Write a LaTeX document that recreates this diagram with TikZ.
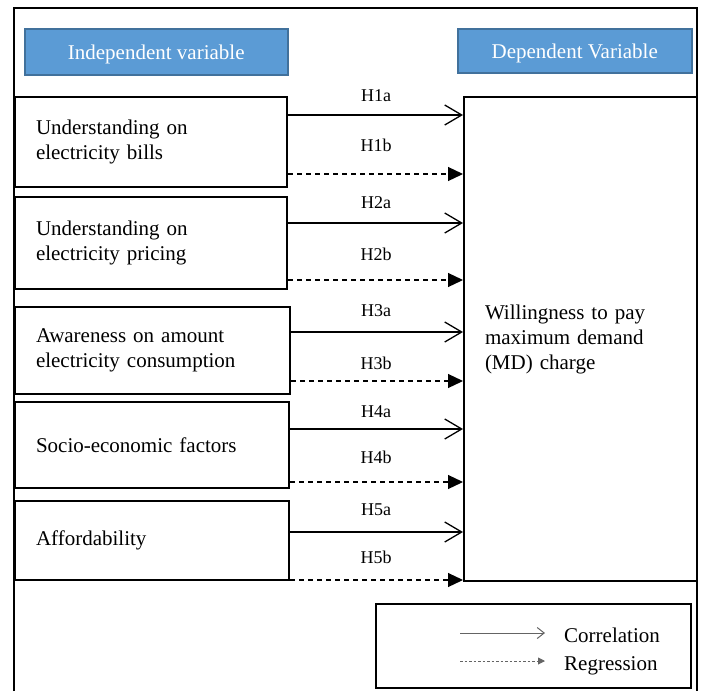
\documentclass[tikz,border=0pt]{standalone}
\usepackage{fontspec}
\setmainfont{Liberation Serif}
\usepackage{xcolor}
\usepackage{tikz}
\usetikzlibrary{arrows.meta,calc}
\definecolor{AzulCaja}{RGB}{91,155,213}
\definecolor{AzulBorde}{RGB}{65,113,156}
\definecolor{GrisLeyenda}{RGB}{100,100,100}

\begin{document}
\begin{tikzpicture}[x=1pt,y=-1pt,
  varbox/.style={draw,line width=2pt,anchor=north west,align=left,inner xsep=21pt,font=\fontsize{21}{25}\selectfont},
  titlebox/.style={draw=AzulBorde,line width=1.5pt,fill=AzulCaja,text=white,anchor=north west,text height=15pt,text depth=0pt,font=\fontsize{21}{25}\selectfont},
  corr/.style={line width=1.3pt,-{Straight Barb[length=17pt,width=20pt,line width=1.3pt]}},
  regr/.style={line width=1.2pt,dash pattern=on 5pt off 4pt,-{Triangle[length=15pt,width=14pt]}},
  hlabel/.style={font=\fontsize{18}{20}\selectfont},
  legtext/.style={anchor=base west,inner sep=0pt,font=\fontsize{21}{25}\selectfont}]
  \useasboundingbox (0,0) rectangle (701,691);
  % outer frame, open at the bottom
  \draw[line width=2pt] (14,691) -- (14,8) -- (697,8) -- (697,691);
  % headings
  \node[titlebox,minimum width=263pt,minimum height=46pt] (indep) at (24,28) {Independent variable};
  \node[titlebox,minimum width=234pt,minimum height=44pt] (dep) at (457,28) {Dependent Variable};
  % independent variables
  \node[varbox,minimum width=272pt,minimum height=90pt,text width=230pt] (bills) at (14,96) {Understanding on\\electricity bills};
  \node[varbox,minimum width=272pt,minimum height=92pt,text width=230pt] (pricing) at (14,196) {Understanding on\\electricity pricing};
  \node[varbox,minimum width=275pt,minimum height=87pt,text width=233pt] (awareness) at (14,306) {Awareness on amount\\electricity consumption};
  \node[varbox,minimum width=274pt,minimum height=86pt,text width=232pt] (socio) at (14,401) {Socio-economic factors};
  \node[varbox,minimum width=274pt,minimum height=79pt,text width=232pt] (afford) at (14,500) {Affordability};
  % dependent variable
  \node[varbox,minimum width=233pt,minimum height=484pt,text width=191pt] (wtp) at (463,96) {Willingness to pay\\maximum demand\\(MD) charge};
  % hypotheses
  \foreach \var/\num/\ya/\yb/\la/\lb in {bills/1/115/174/96/145,pricing/2/223/280/203/254,awareness/3/332/381/311/363,socio/4/429/482/412/457,afford/5/532/580/510/557}{
    \draw[corr] (\var.east |- 0,\ya) -- (wtp.west |- 0,\ya);
    \draw[regr] (\var.east |- 0,\yb) -- (wtp.west |- 0,\yb);
    \node[hlabel] (h\num a) at (376,\la) {H\num a};
    \node[hlabel] (h\num b) at (376,\lb) {H\num b};
  }
  % legend
  \node[draw,line width=2pt,anchor=north west,minimum width=315pt,minimum height=84pt] (legend) at (375,603) {};
  \node[legtext] (corrtxt) at (564,642) {Correlation};
  \node[legtext] (regrtxt) at (564,670) {Regression};
  \coordinate (lcs) at (460,633);
  \coordinate (lrs) at (460,661);
  \draw[GrisLeyenda,line width=1pt,-{Straight Barb[length=7pt,width=11pt,line width=1pt]}] (lcs) -- (lcs -| corrtxt.west) [shorten >=19pt];
  \draw[GrisLeyenda,line width=0.9pt,dash pattern=on 2.5pt off 2pt,-{Triangle[length=7pt,width=7pt]}] (lrs) -- (lrs -| regrtxt.west) [shorten >=19pt];
\end{tikzpicture}
\end{document}
